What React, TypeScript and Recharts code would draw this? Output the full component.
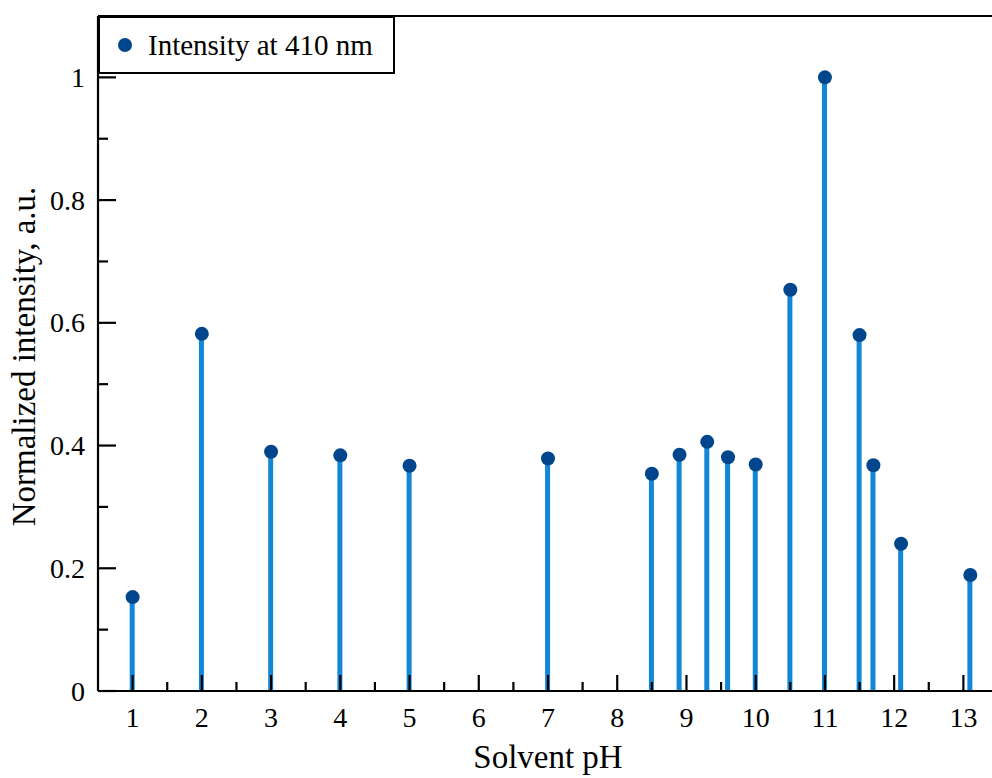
import React from 'react';
import { ComposedChart, Bar, Scatter, XAxis, YAxis, Legend, ReferenceLine } from 'recharts';

const seriesName = 'Intensity at 410 nm';
const xTitle = 'Solvent pH';
const yTitle = 'Normalized intensity, a.u.';

const phValues = [1, 2, 3, 4, 5, 7, 8.5, 8.9, 9.3, 9.6, 10, 10.5, 11, 11.5, 11.7, 12.1, 13.1];
const intensity = [0.153, 0.582, 0.39, 0.384, 0.367, 0.379, 0.354, 0.385, 0.406, 0.381, 0.369, 0.654, 1.0, 0.58, 0.368, 0.24, 0.189];

const xTicks = [1, 1.5, 2, 2.5, 3, 3.5, 4, 4.5, 5, 5.5, 6, 6.5, 7, 7.5, 8, 8.5, 9, 9.5, 10, 10.5, 11, 11.5, 12, 12.5, 13];
const yTicks = [0, 0.1, 0.2, 0.3, 0.4, 0.5, 0.6, 0.7, 0.8, 0.9, 1.0];
const xDomain = [0.5, 13.5];
const yDomain = [0, 1.1];

const data = phValues.map((ph, i) => ({ ph, v: intensity[i] }));

const FONT = '"Liberation Serif", "Times New Roman", serif';
const STEM = '#1287d6';
const DOT = '#00468c';
const AXIS_W = 2.2;

const XTick = (props: any) => {
  const { x, y, payload } = props;
  const v = payload.value;
  const major = Number.isInteger(v);
  return (
    <g>
      <line x1={x} x2={x} y1={y} y2={y - (major ? 16 : 9)} stroke="#000" strokeWidth={AXIS_W} />
      {major && (
        <text x={x} y={y + 36} textAnchor="middle" fontFamily={FONT} fontSize={28} fill="#000">
          {String(v)}
        </text>
      )}
    </g>
  );
};

const YTick = (props: any) => {
  const { x, y, payload } = props;
  const v = payload.value;
  const major = Math.round(v * 10) % 2 === 0;
  return (
    <g>
      <line x1={x} x2={x + (major ? 18 : 10)} y1={y} y2={y} stroke="#000" strokeWidth={AXIS_W} />
      {major && (
        <text x={x - 13} y={y + 9.5} textAnchor="end" fontFamily={FONT} fontSize={28} fill="#000">
          {String(v)}
        </text>
      )}
    </g>
  );
};

const XLabel = (props: any) => {
  const vb = props.viewBox || {};
  return (
    <text x={vb.x + vb.width / 2} y={vb.y + 77} textAnchor="middle" fontFamily={FONT} fontSize={33} fill="#000">
      {xTitle}
    </text>
  );
};

const YLabel = (props: any) => {
  const vb = props.viewBox || {};
  const cx = vb.x + 35;
  const cy = vb.y + vb.height / 2 + 3;
  return (
    <text x={cx} y={cy} transform={`rotate(-90, ${cx}, ${cy})`} textAnchor="middle" fontFamily={FONT} fontSize={33} fill="#000">
      {yTitle}
    </text>
  );
};

const LegendBox = () => (
  <div
    style={{
      border: '2px solid #000',
      background: '#fff',
      width: 297,
      height: 58,
      boxSizing: 'border-box',
      display: 'flex',
      alignItems: 'center',
      fontFamily: FONT,
      fontSize: 29,
      color: '#000',
    }}
  >
    <svg width={14} height={14} style={{ marginLeft: 18, marginRight: 16, flex: 'none' }}>
      <circle cx={7} cy={7} r={7} fill={DOT} />
    </svg>
    <span style={{ lineHeight: '29px', whiteSpace: 'nowrap' }}>{seriesName}</span>
  </div>
);

export default function App() {
  return (
    <div style={{ position: 'fixed', left: 0, top: 0, width: 992, height: 778, overflow: 'hidden', background: '#fff' }}>
      <ComposedChart width={1010} height={778} data={data} margin={{ top: 16, right: 12, left: 0, bottom: 0 }}>
        <Bar dataKey="v" fill={STEM} barSize={5} isAnimationActive={false} />
        <Scatter
          dataKey="v"
          fill={DOT}
          isAnimationActive={false}
          shape={(p: any) => <circle cx={p.cx} cy={p.cy} r={7} fill={DOT} />}
        />
        <ReferenceLine y={yDomain[1]} stroke="#000" strokeWidth={AXIS_W} ifOverflow="visible" />
        <XAxis
          dataKey="ph"
          type="number"
          domain={xDomain}
          ticks={xTicks}
          interval={0}
          allowDataOverflow
          height={87}
          tickSize={0}
          tickMargin={0}
          tickLine={false}
          axisLine={{ stroke: '#000', strokeWidth: AXIS_W }}
          tick={<XTick />}
          label={{ content: <XLabel /> }}
        />
        <YAxis
          type="number"
          domain={yDomain}
          ticks={yTicks}
          interval={0}
          allowDataOverflow
          width={98}
          tickSize={0}
          tickMargin={0}
          tickLine={false}
          axisLine={{ stroke: '#000', strokeWidth: AXIS_W }}
          tick={<YTick />}
          label={{ content: <YLabel /> }}
        />
        <Legend
          layout="horizontal"
          verticalAlign="middle"
          align="center"
          wrapperStyle={{ left: 98, top: 16, width: 'auto', height: 'auto' }}
          content={<LegendBox />}
        />
      </ComposedChart>
    </div>
  );
}
